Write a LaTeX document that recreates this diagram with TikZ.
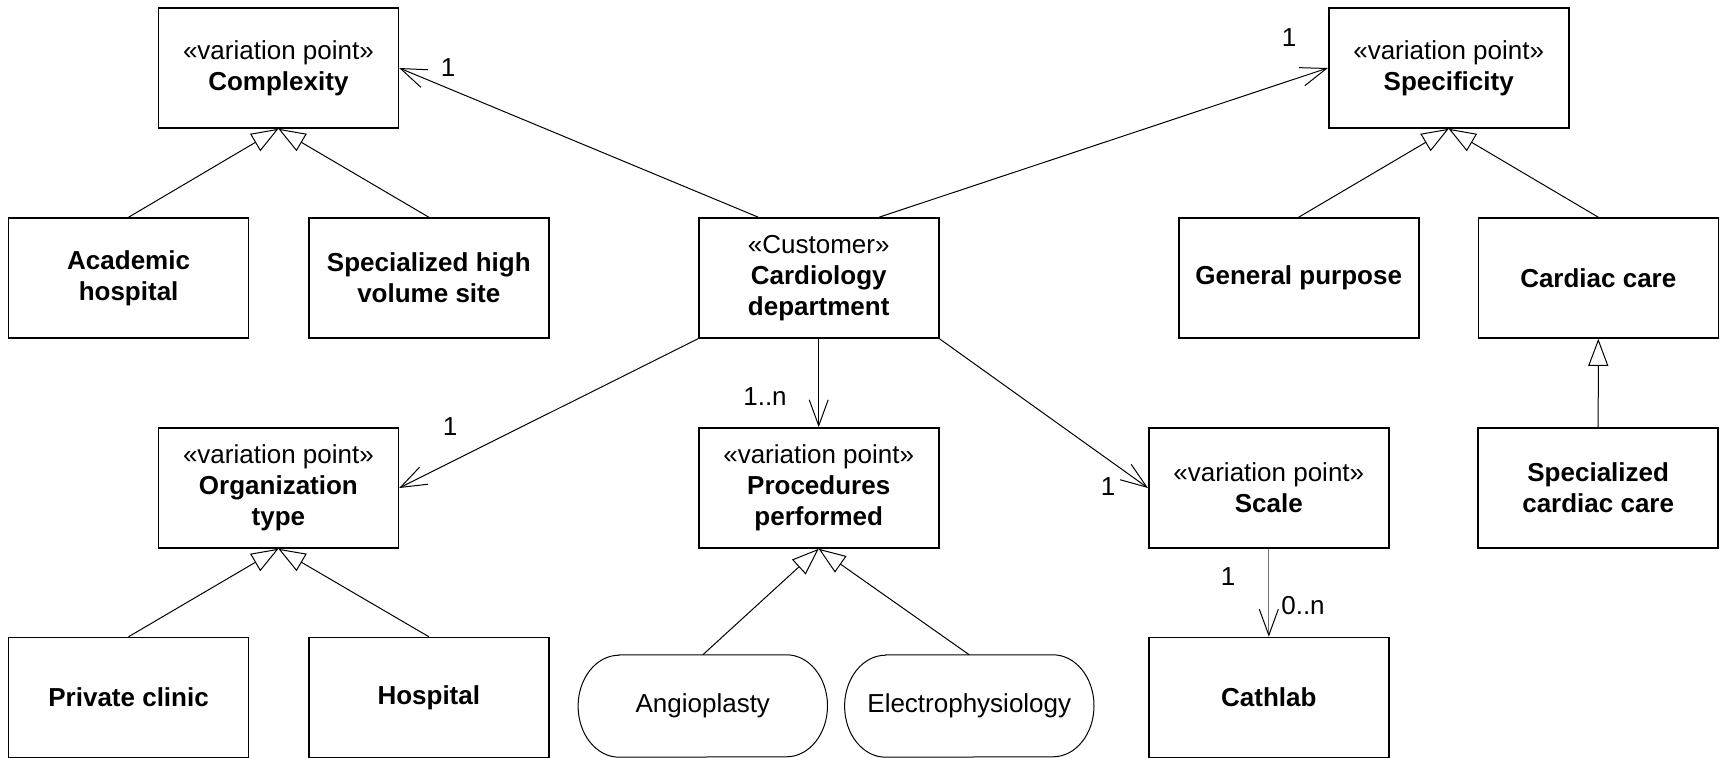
\documentclass[tikz,border=0pt]{standalone}
\usepackage{fontspec}
\setmainfont{Liberation Sans}
\usetikzlibrary{arrows.meta,calc}

\tikzset{
  umltext/.style={font=\fontsize{26}{31}\selectfont},
  box/.style={umltext, draw, line width=1.6pt, minimum width=240pt,
    minimum height=120pt, inner sep=0pt, align=center},
  pill/.style={umltext, minimum width=249pt, minimum height=102pt,
    inner sep=0pt, align=center},
  assoc/.style={line width=1pt, -{Straight Barb[length=26pt,width=19pt]}},
  gen/.style={line width=1pt, -{Triangle[open,length=27pt,width=20pt]}},
  mult/.style={umltext, inner sep=2pt}
}

\begin{document}
\begin{tikzpicture}[x=1pt,y=-1pt]
\useasboundingbox (0,0) rectangle (1725,758);

% variation points and their variants
\node[box] (cplx) at (278.4,68) {«variation point»\\\textbf{Complexity}};
\node[box] (spec) at (1448.7,68) {«variation point»\\\textbf{Specificity}};
\node[box] (acad) at (128.6,278) {\textbf{Academic}\\\textbf{hospital}};
\node[box] (shv) at (428.8,278) {\textbf{Specialized high}\\\textbf{volume site}};
\node[box] (card) at (818.7,278) {«Customer»\\\textbf{Cardiology}\\\textbf{department}};
\node[box] (genp) at (1298.7,278) {\textbf{General purpose}};
\node[box] (cardc) at (1598.3,278) {\textbf{Cardiac care}};
\node[box] (org) at (278.4,488) {«variation point»\\\textbf{Organization}\\\textbf{type}};
\node[box] (proc) at (818.7,488) {«variation point»\\\textbf{Procedures}\\\textbf{performed}};
\node[box] (scale) at (1268.8,488) {«variation point»\\\textbf{Scale}};
\node[box] (speccc) at (1598.2,488) {\textbf{Specialized}\\\textbf{cardiac care}};
\node[box] (priv) at (128.6,697.5) {\textbf{Private clinic}};
\node[box] (hosp) at (428.8,697.5) {\textbf{Hospital}};
\node[box] (cath) at (1268.8,697.5) {\textbf{Cathlab}};

% procedure variants drawn as pills with elliptic ends
\node[pill] (angio) at (702.8,706) {Angioplasty};
\node[pill] (electro) at (969.3,706) {Electrophysiology};
\foreach \p in {angio,electro}{
  \draw[line width=1pt]
    ([xshift=41pt]\p.north west) -- ([xshift=-41pt]\p.north east)
    arc[start angle=90, end angle=-90, x radius=41pt, y radius=51pt]
    -- ([xshift=41pt]\p.south west)
    arc[start angle=270, end angle=90, x radius=41pt, y radius=51pt]
    -- cycle;
}

% associations from the customer
\draw[assoc] ($(card.north west)!0.25!(card.north east)$) -- (cplx.east);
\draw[assoc] ($(card.north west)!0.75!(card.north east)$) -- (spec.west);
\draw[assoc] (card.south west) -- (org.east);
\draw[assoc] (card.south) -- (proc.north);
\draw[assoc] (card.south east) -- (scale.west);
\draw[line width=1pt, draw=black!55,
  -{Straight Barb[length=26pt,width=19pt,color=black]}] (scale.south) -- (cath.north);

% generalizations
\draw[gen] (acad.north) -- (cplx.south);
\draw[gen] (shv.north) -- (cplx.south);
\draw[gen] (genp.north) -- (spec.south);
\draw[gen] (cardc.north) -- (spec.south);
\draw[gen] (speccc.north) -- (cardc.south);
\draw[gen] (priv.north) -- (org.south);
\draw[gen] (hosp.north) -- (org.south);
\draw[gen] (angio.north) -- (proc.south);
\draw[gen] (electro.north) -- (proc.south);

% multiplicities
\node[mult] (m1) at (448,68) {1};
\node[mult] (m2) at (1289,38) {1};
\node[mult] (m3) at (450,427) {1};
\node[mult] (m4) at (765,397) {1..n};
\node[mult] (m5) at (1108,487) {1};
\node[mult] (m6) at (1228,577) {1};
\node[mult] (m7) at (1303,606) {0..n};
\end{tikzpicture}
\end{document}
